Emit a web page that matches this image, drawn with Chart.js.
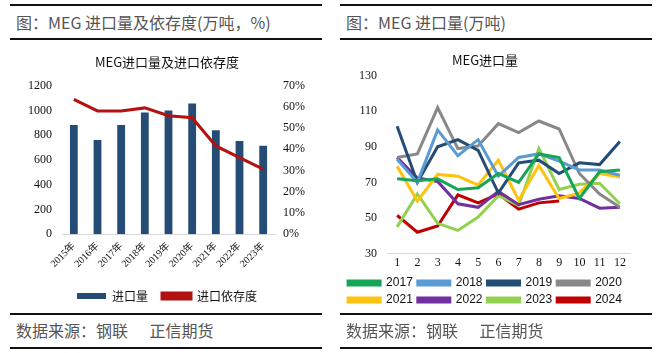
<!DOCTYPE html>
<html><head><meta charset="utf-8">
<script src="https://cdn.jsdelivr.net/npm/chart.js@4.4.1/dist/chart.umd.min.js"></script>
<style>
html,body{margin:0;padding:0;background:#fff;width:657px;height:353px;overflow:hidden;font-family:"Liberation Serif","Noto Sans CJK SC",serif;}
.hl{position:absolute;height:2px;background:#111;}
.hd{position:absolute;font-size:16px;color:#555;font-family:"Noto Sans CJK SC",sans-serif;white-space:nowrap;}
.box{position:absolute;}
</style></head><body>
<div class="hl" style="left:10px;top:4px;width:312px"></div>
<div class="hl" style="left:340px;top:4px;width:312px"></div>
<div class="hd" style="left:16px;top:10px">图：MEG 进口量及依存度(万吨，%)</div>
<div class="hd" style="left:346px;top:10px">图：MEG 进口量(万吨)</div>
<div class="hl" style="left:10px;top:38px;width:312px;height:1.5px"></div>
<div class="hl" style="left:340px;top:38px;width:312px;height:1.5px"></div>
<div class="box" style="left:10px;top:44px;width:314px;height:268px"><canvas id="c1"></canvas></div>
<div class="box" style="left:340px;top:44px;width:312px;height:272px"><canvas id="c2"></canvas></div>
<div class="hl" style="left:10px;top:313px;width:312px;height:1.5px"></div>
<div class="hl" style="left:340px;top:313px;width:312px;height:1.5px"></div>
<div class="hd" style="left:16px;top:318px">数据来源：钢联&nbsp;&nbsp;&nbsp;&nbsp;&nbsp;&nbsp;正信期货</div>
<div class="hd" style="left:346px;top:318px">数据来源：钢联&nbsp;&nbsp;&nbsp;&nbsp;&nbsp;&nbsp;正信期货</div>
<div class="hl" style="left:10px;top:347px;width:312px;height:1.5px"></div>
<div class="hl" style="left:340px;top:347px;width:312px;height:1.5px"></div>
<script>
const years = ["2015年","2016年","2017年","2018年","2019年","2020年","2021年","2022年","2023年"];
const importVolume = [883, 761, 883, 983, 999, 1055, 840, 753, 714];
const dependency = [63.5, 58.1, 58.1, 59.5, 55.8, 54.9, 41.6, 36.1, 30.7];

const months = ["1","2","3","4","5","6","7","8","9","10","11","12"];
const y2017 = [72, 71, 72, 66, 67, 75, 70, 86, 84, 61, 76, 77];
const y2018 = [83, 70, 99.5, 85, 94, 73.5, 84, 86, 82, 77, 77, 74];
const y2019 = [101.5, 70, 90, 94, 88, 64, 81, 82.5, 75, 81, 80, 93];
const y2020 = [84, 86, 112, 89, 90.5, 103, 98, 104.5, 100, 75, 63.5, 56];
const y2021 = [79, 59.5, 74.5, 73.5, 68.5, 82.5, 60, 79.5, 61, 64, 75, 73];
const y2022 = [84, 72.5, 70.5, 58, 56, 65, 57.5, 60.5, 62.5, 61, 55.5, 56];
const y2023 = [45, 63.5, 47, 43, 50.5, 62.5, 57, 89, 66, 69, 69.5, 58];
const y2024 = [51.5, 42, 45.5, 63, 58.5, 63.5, 55, 58.5, 59.5];

const tickFont = {family:"Liberation Serif, Noto Sans CJK SC", size:12};
const cjk = "Noto Sans CJK SC";

new Chart(document.getElementById('c1'), {
  data: {
    labels: years,
    datasets: [
      {type:'bar', label:'进口量', data:importVolume, backgroundColor:'#244C75', borderWidth:0,
       categoryPercentage:1, barPercentage:0.33, yAxisID:'y', order:2},
      {type:'line', label:'进口依存度', data:dependency, borderColor:'#B41212', backgroundColor:'#B41212',
       borderWidth:3, pointRadius:0, tension:0, yAxisID:'y1', order:1}
    ]
  },
  options: {
    responsive:true, maintainAspectRatio:false, animation:false,
    layout:{padding:{left:0,right:0,top:0,bottom:0}},
    plugins:{
      title:{display:true, text:'MEG进口量及进口依存度', color:'#111', font:{family:cjk, size:13, weight:'normal'}, padding:{top:10,bottom:16}},
      legend:{position:'bottom', labels:{boxWidth:29, boxHeight:6, color:'#111', font:{family:cjk,size:12}, padding:14,
        sort:(a,b)=>a.datasetIndex-b.datasetIndex}},
      tooltip:{enabled:false}
    },
    scales:{
      x:{grid:{display:false, drawTicks:false}, border:{display:true,color:'#d9d9d9'},
         ticks:{color:'#111', font:{family:"Liberation Serif, Noto Sans CJK SC", size:10}, minRotation:45, maxRotation:45, padding:6}},
      y:{position:'left', min:0, max:1200, grid:{display:false, drawTicks:false}, border:{display:false},
         ticks:{stepSize:200, color:'#111', font:tickFont, padding:10, callback:v=>String(v)},
         afterFit(s){s.width=52;}},
      y1:{position:'right', min:0, max:70, grid:{display:false, drawTicks:false}, border:{display:false},
         ticks:{stepSize:10, color:'#111', font:tickFont, padding:8, callback:v=>v+'%'},
         afterFit(s){s.width=49;}}
    }
  }
});

function ds(label, data, color){
  return {label, data, borderColor:color, backgroundColor:color, borderWidth:3, pointRadius:0, tension:0};
}
new Chart(document.getElementById('c2'), {
  type:'line',
  data:{
    labels: months,
    datasets:[
      ds('2017', y2017, '#14A556'),
      ds('2018', y2018, '#5B9BD5'),
      ds('2019', y2019, '#244C75'),
      ds('2020', y2020, '#888888'),
      ds('2021', y2021, '#FFC20E'),
      ds('2022', y2022, '#7030A0'),
      ds('2023', y2023, '#92D050'),
      ds('2024', y2024, '#C00000')
    ]
  },
  options:{
    responsive:true, maintainAspectRatio:false, animation:false,
    layout:{padding:{left:0,right:22,top:0,bottom:0}},
    plugins:{
      title:{display:true, text:'MEG进口量', color:'#111', font:{family:cjk,size:13,weight:'normal'}, padding:{top:8,bottom:8}},
      legend:{position:'bottom', labels:{boxWidth:32, boxHeight:4, color:'#111', font:{family:"Liberation Sans",size:12}, padding:5}},
      tooltip:{enabled:false}
    },
    scales:{
      x:{offset:true, grid:{display:false, drawTicks:false}, border:{display:true,color:'#d9d9d9'},
         ticks:{color:'#111', font:tickFont, maxRotation:0, autoSkip:false, padding:2}},
      y:{min:30, max:130, grid:{display:false, drawTicks:false}, border:{display:false},
         ticks:{stepSize:20, color:'#111', font:tickFont, padding:10},
         afterFit(s){s.width=47;}}
    }
  }
});
</script>
</body></html>
